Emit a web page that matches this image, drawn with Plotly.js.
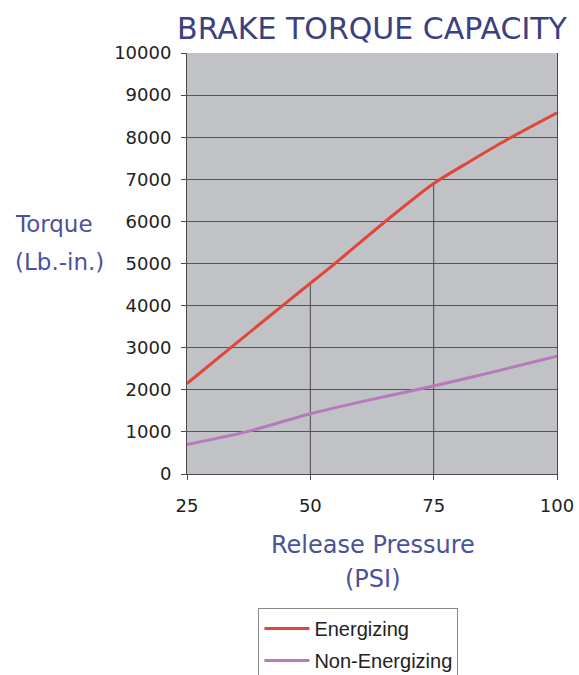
<!DOCTYPE html>
<html>
<head>
<meta charset="utf-8">
<script src="https://cdn.plot.ly/plotly-3.0.1.min.js"></script>
<style>html,body{margin:0;padding:0;background:#fff;}#chart{width:579px;height:675px;}</style>
</head>
<body>
<div id="chart"></div>
<script>
var pressureE = [25, 35, 45, 50, 55, 65, 75, 82, 90, 100];
var energizing = [2150, 3110, 4060, 4530, 5000, 5980, 6900, 7400, 7950, 8580];
var pressureN = [25, 37, 50, 62, 75, 88, 100];
var nonEnergizing = [700, 1000, 1430, 1760, 2090, 2450, 2800];
var dropX = [50, 75];
var dropY = [4530, 6900];
var xTicks = [25, 50, 75, 100];
var yTicks = [0, 1000, 2000, 3000, 4000, 5000, 6000, 7000, 8000, 9000, 10000];

var traces = [];
dropX.forEach(function (x, i) {
  traces.push({x: [x, x], y: [0, dropY[i]], mode: 'lines', line: {color: '#4a4a4a', width: 1}, showlegend: false, hoverinfo: 'skip'});
});
traces.push({x: pressureE, y: energizing, mode: 'lines', name: 'Energizing', legendgroup: 'a',
             line: {color: '#e0463c', width: 3, shape: 'spline', smoothing: 0.6}});
traces.push({x: pressureN, y: nonEnergizing, mode: 'lines', name: 'Non-Energizing', legendgroup: 'b',
             line: {color: '#b57ab9', width: 3, shape: 'spline', smoothing: 0.6}});

var titleColor = '#4b529c';
var layout = {
  width: 579, height: 675,
  margin: {l: 187, r: 22, t: 53, b: 201, autoexpand: false},
  paper_bgcolor: '#ffffff',
  plot_bgcolor: '#c0c2c6',
  font: {family: 'DejaVu Sans, sans-serif', color: '#222', size: 18},
  title: {text: 'BRAKE TORQUE CAPACITY', xref: 'paper', x: 0.5, xanchor: 'center', y: 0.958, yanchor: 'middle',
          font: {family: 'DejaVu Sans', size: 30, color: '#3b4080'}},
  xaxis: {range: [25, 100], tickvals: xTicks, ticktext: xTicks.map(String), showgrid: false, zeroline: false,
          showline: true, linecolor: '#4a4a4a', linewidth: 1, ticks: 'outside', ticklen: 5, tickcolor: '#4a4a4a',
          ticklabelstandoff: 10, tickfont: {size: 18, color: '#222'}},
  yaxis: {range: [0, 10000], tickvals: yTicks, ticktext: yTicks.map(String), showgrid: true, gridcolor: '#555',
          gridwidth: 1, zeroline: false, showline: true, mirror: true, linecolor: '#4a4a4a', linewidth: 1,
          ticks: 'outside', ticklen: 5, tickcolor: '#4a4a4a', ticklabelstandoff: 6, tickfont: {size: 18, color: '#222'}},
  annotations: [
    {text: 'Torque', xref: 'paper', yref: 'paper', x: -0.47, y: 0.594, xanchor: 'left', yanchor: 'middle',
     showarrow: false, font: {family: 'DejaVu Sans', size: 23, color: titleColor}},
    {text: '(Lb.-in.)', xref: 'paper', yref: 'paper', x: -0.47, y: 0.504, xanchor: 'left', yanchor: 'middle',
     showarrow: false, font: {family: 'DejaVu Sans', size: 23, color: titleColor}},
    {text: 'Release Pressure', xref: 'paper', yref: 'paper', x: 0.503, y: -0.169, xanchor: 'center', yanchor: 'middle',
     showarrow: false, font: {family: 'DejaVu Sans', size: 24, color: titleColor}},
    {text: '(PSI)', xref: 'paper', yref: 'paper', x: 0.503, y: -0.249, xanchor: 'center', yanchor: 'middle',
     showarrow: false, font: {family: 'DejaVu Sans', size: 24, color: titleColor}}
  ],
  legend: {x: 0.193, y: -0.318, xanchor: 'left', yanchor: 'top', bgcolor: '#fff', bordercolor: '#888', borderwidth: 1,
           traceorder: 'grouped', tracegroupgap: 3, itemwidth: 45,
           font: {family: 'Liberation Sans, Arial, sans-serif', size: 20, color: '#222'}},
  showlegend: true
};
Plotly.newPlot('chart', traces, layout, {displayModeBar: false, staticPlot: true});
</script>
</body>
</html>
